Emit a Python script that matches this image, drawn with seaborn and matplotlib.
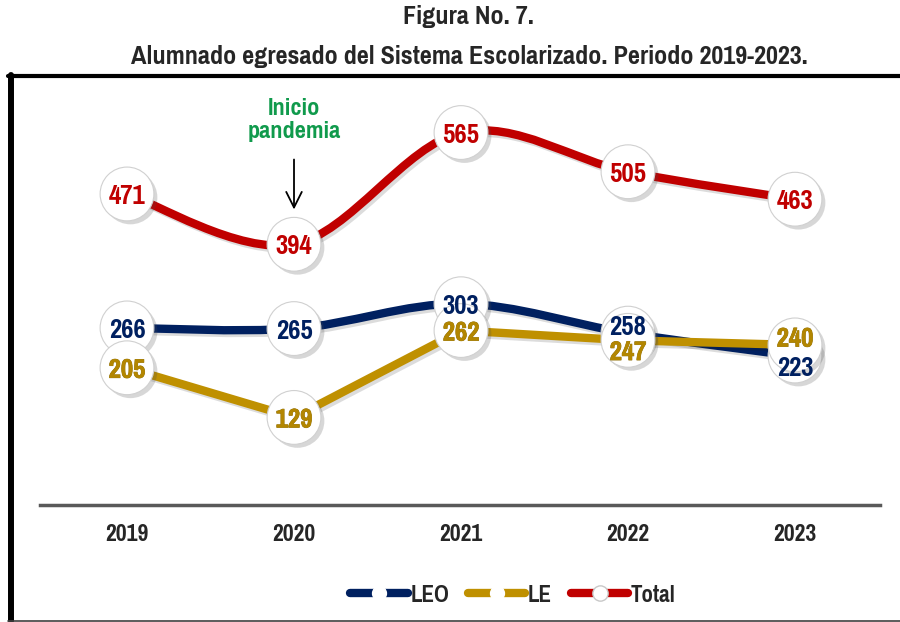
import numpy as np
import pandas as pd
import matplotlib
matplotlib.use("Agg")
import matplotlib.pyplot as plt
import matplotlib.patheffects as pe
from matplotlib.path import Path
from matplotlib.patches import PathPatch
from matplotlib.lines import Line2D
import seaborn as sns

# datos
years = ["2019", "2020", "2021", "2022", "2023"]
leo = [266, 265, 303, 258, 223]
le = [205, 129, 262, 247, 240]
total = [471, 394, 565, 505, 463]

sns.set_theme(style="white")
plt.rcParams["font.family"] = ["Liberation Sans Narrow", "Arial Narrow", "Pragati Narrow",
                               "PT Sans Narrow", "Roboto Condensed", "Liberation Sans", "DejaVu Sans"]
plt.rcParams["font.weight"] = "bold"

df = pd.DataFrame({"pos": np.arange(len(years)), "LEO": leo, "LE": le, "Total": total})

colors = {"LEO": "#002060", "LE": "#BF9000", "Total": "#C00000"}
text_colors = {"LEO": "#002060", "LE": "#B38600", "Total": "#C00000"}
smooth = {"LEO": True, "LE": False, "Total": True}
# desplazamiento vertical (pt) de etiquetas que se encimarian
label_dy = {"LEO": [0, 0, 0, 6, -7], "LE": [0, 0, 0, -7, 6], "Total": [0, 0, 0, 0, 0]}


def curve(xs, ys, smooth_line):
    pts = np.column_stack([xs, ys]).astype(float)
    if not smooth_line:
        return Path(pts, [Path.MOVETO] + [Path.LINETO] * (len(pts) - 1))
    verts, codes = [pts[0]], [Path.MOVETO]
    n = len(pts)
    for i in range(n - 1):
        p0, p1 = pts[max(i - 1, 0)], pts[i]
        p2, p3 = pts[i + 1], pts[min(i + 2, n - 1)]
        verts += [p1 + (p2 - p0) / 6, p2 - (p3 - p1) / 6, p2]
        codes += [Path.CURVE4] * 3
    return Path(verts, codes)


fig = plt.figure(figsize=(9, 6.22), dpi=100)
ax = fig.add_axes([40 / 900, 117 / 622, 840 / 900, 428 / 622])

order = ["Total", "LEO", "LE"]
for s in order:
    patch = PathPatch(curve(df["pos"], df[s], smooth[s]), fc="none", ec=colors[s], lw=6,
                      capstyle="round", zorder=2,
                      path_effects=[pe.SimpleLineShadow(offset=(2, -2), alpha=0.15), pe.Normal()])
    ax.add_patch(patch)

for s in order:
    sns.scatterplot(x=df["pos"], y=df[s], s=1500, color="white", edgecolor="#D0D0D0",
                    linewidth=0.8, zorder=4, legend=False, ax=ax,
                    path_effects=[pe.SimplePatchShadow(offset=(2.5, -2.5), alpha=0.22), pe.Normal()])

for s in order:
    for i, v in enumerate(df[s]):
        t = ax.annotate(str(v), (i, v), xytext=(0, label_dy[s][i]), textcoords="offset points",
                        ha="center", va="center_baseline", fontsize=21, fontweight="bold",
                        color=text_colors[s], zorder=6)
        if s == "LE":
            t.set_path_effects([pe.withStroke(linewidth=0.5, foreground="#8A6A00")])

# anotacion pandemia
ax.annotate("", xy=(1, 443), xytext=(1, 528),
            arrowprops=dict(arrowstyle="->", color="black", lw=1.3, mutation_scale=28))
ax.text(1, 584, "Inicio\npandemia", ha="center", va="center", color="#109A4C",
        fontsize=19, fontweight="bold", linespacing=1.08)

ax.set_xlim(-0.521, 4.509)
ax.set_ylim(-5, 650)
ax.set_yticks([])
ax.set_xticks(range(len(years)), years)
ax.set_xlabel("")
ax.set_ylabel("")
ax.tick_params(axis="x", length=0, pad=14, labelsize=18.5)
for lab in ax.get_xticklabels():
    lab.set_fontweight("bold")
sns.despine(ax=ax, left=True)
ax.spines["bottom"].set_color("#595959")
ax.spines["bottom"].set_linewidth(2.5)

handles = [
    Line2D([], [], color=colors["LEO"], lw=6, marker="o", ms=10, mfc="white", mec="white",
           solid_capstyle="round"),
    Line2D([], [], color=colors["LE"], lw=6, marker="o", ms=10, mfc="white", mec="white",
           solid_capstyle="round"),
    Line2D([], [], color=colors["Total"], lw=6, marker="o", ms=11, mfc="white", mec="#C8C8C8",
           solid_capstyle="round"),
]
fig.legend(handles, ["LEO", "LE", "Total"], loc="center", bbox_to_anchor=(513 / 900, 1 - 595 / 622),
           ncol=3, frameon=False, prop={"size": 18, "weight": "bold"},
           handlelength=2.3, handletextpad=0.1, columnspacing=0.75)

fig.text(0.521, 1 - 17 / 622, "Figura No. 7.", ha="center", va="center", fontsize=20.5,
         fontweight="bold")
fig.text(0.521, 1 - 57 / 622, "Alumnado egresado del Sistema Escolarizado. Periodo 2019-2023.",
         ha="center", va="center", fontsize=20.5, fontweight="bold")

# marco
fig.add_artist(Line2D([11 / 900, 11 / 900], [1.5 / 622, 547 / 622], color="black", lw=4.3,
                      transform=fig.transFigure))
fig.add_artist(Line2D([8 / 900, 1], [546 / 622, 546 / 622], color="black", lw=3,
                      transform=fig.transFigure))
fig.add_artist(Line2D([8 / 900, 1], [1.5 / 622, 1.5 / 622], color="#404040", lw=1.2,
                      transform=fig.transFigure))

fig.savefig("out.png", dpi=100)
